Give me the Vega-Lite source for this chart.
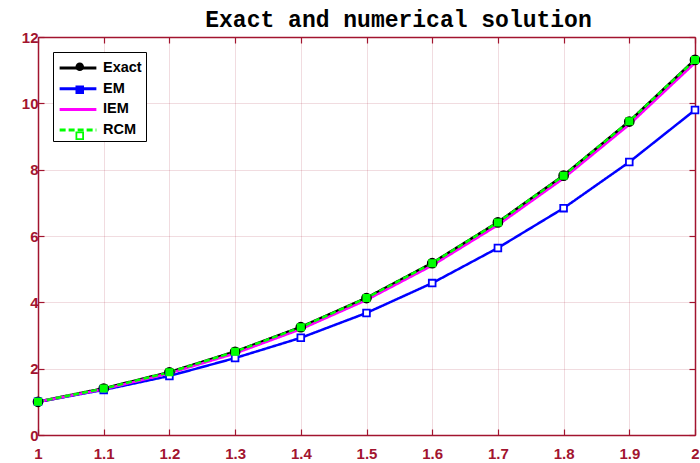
{
  "$schema": "https://vega.github.io/schema/vega-lite/v6.json",
  "autosize": {"type": "none"},
  "width": 657,
  "height": 398,
  "padding": {"left": 38, "top": 37, "right": 5, "bottom": 28},
  "background": "white",
  "title": {
    "text": "Exact and numerical solution",
    "font": "Liberation Mono",
    "fontWeight": "bold",
    "fontSize": 23,
    "color": "#000000",
    "anchor": "middle",
    "dx": 32,
    "offset": -2
  },
  "config": {
    "view": {"stroke": null},
    "axis": {
      "domainColor": "#A2142F",
      "domainWidth": 1.5,
      "tickColor": "#A2142F",
      "tickSize": -6,
      "tickWidth": 1.2,
      "labelColor": "#A2142F",
      "labelFont": "Liberation Sans",
      "labelFontWeight": "bold",
      "labelFontSize": 15,
      "gridColor": "#A2142F",
      "gridOpacity": 0.15,
      "gridWidth": 1,
      "title": null
    },
    "legend": {
      "labelFont": "Liberation Sans",
      "labelFontWeight": "bold",
      "labelFontSize": 14.5,
      "labelColor": "#000000",
      "title": null
    }
  },
  "data": {
    "values": [
      {"x": 1.0, "series": "Exact", "y": 1.0},
      {"x": 1.1, "series": "Exact", "y": 1.40},
      {"x": 1.2, "series": "Exact", "y": 1.89},
      {"x": 1.3, "series": "Exact", "y": 2.51},
      {"x": 1.4, "series": "Exact", "y": 3.25},
      {"x": 1.5, "series": "Exact", "y": 4.13},
      {"x": 1.6, "series": "Exact", "y": 5.18},
      {"x": 1.7, "series": "Exact", "y": 6.41},
      {"x": 1.8, "series": "Exact", "y": 7.82},
      {"x": 1.9, "series": "Exact", "y": 9.45},
      {"x": 2.0, "series": "Exact", "y": 11.31},
      {"x": 1.0, "series": "EM", "y": 1.0},
      {"x": 1.1, "series": "EM", "y": 1.36},
      {"x": 1.2, "series": "EM", "y": 1.78},
      {"x": 1.3, "series": "EM", "y": 2.32},
      {"x": 1.4, "series": "EM", "y": 2.93},
      {"x": 1.5, "series": "EM", "y": 3.68},
      {"x": 1.6, "series": "EM", "y": 4.58},
      {"x": 1.7, "series": "EM", "y": 5.64},
      {"x": 1.8, "series": "EM", "y": 6.84},
      {"x": 1.9, "series": "EM", "y": 8.23},
      {"x": 2.0, "series": "EM", "y": 9.80},
      {"x": 1.0, "series": "IEM", "y": 1.0},
      {"x": 1.1, "series": "IEM", "y": 1.38},
      {"x": 1.2, "series": "IEM", "y": 1.86},
      {"x": 1.3, "series": "IEM", "y": 2.46},
      {"x": 1.4, "series": "IEM", "y": 3.19},
      {"x": 1.5, "series": "IEM", "y": 4.07},
      {"x": 1.6, "series": "IEM", "y": 5.11},
      {"x": 1.7, "series": "IEM", "y": 6.33},
      {"x": 1.8, "series": "IEM", "y": 7.74},
      {"x": 1.9, "series": "IEM", "y": 9.36},
      {"x": 2.0, "series": "IEM", "y": 11.22},
      {"x": 1.0, "series": "RCM", "y": 1.0},
      {"x": 1.1, "series": "RCM", "y": 1.40},
      {"x": 1.2, "series": "RCM", "y": 1.89},
      {"x": 1.3, "series": "RCM", "y": 2.51},
      {"x": 1.4, "series": "RCM", "y": 3.25},
      {"x": 1.5, "series": "RCM", "y": 4.13},
      {"x": 1.6, "series": "RCM", "y": 5.18},
      {"x": 1.7, "series": "RCM", "y": 6.41},
      {"x": 1.8, "series": "RCM", "y": 7.82},
      {"x": 1.9, "series": "RCM", "y": 9.46},
      {"x": 2.0, "series": "RCM", "y": 11.31}
    ]
  },
  "resolve": {"axis": {"x": "independent", "y": "independent"}},
  "layer": [
    {
      "encoding": {
        "x": {
          "field": "x", "type": "quantitative",
          "scale": {"domain": [1, 2], "nice": false, "zero": false},
          "axis": {"values": [1, 1.1, 1.2, 1.3, 1.4, 1.5, 1.6, 1.7, 1.8, 1.9, 2], "format": "~g", "grid": true, "labelPadding": 17, "labelFlush": false}
        },
        "y": {
          "field": "y", "type": "quantitative",
          "scale": {"domain": [0, 12], "nice": false},
          "axis": {"values": [0, 2, 4, 6, 8, 10, 12], "grid": true, "labelPadding": 6}
        }
      },
      "layer": [
        {
          "transform": [{"filter": "datum.series === 'Exact'"}],
          "mark": {"type": "line", "strokeWidth": 3},
          "encoding": {
            "color": {"field": "series", "type": "nominal",
              "scale": {"domain": ["Exact", "EM", "IEM", "RCM"], "range": ["#000000", "#0000FF", "#FF00FF", "#00FF00"]},
              "legend": {
                "orient": "top-left", "offset": 15,
                "symbolType": "M-1.75,0H1.75", "symbolSize": 441, "symbolStrokeWidth": 3,
                "symbolOffset": 9,
                "strokeColor": "#000000", "fillColor": "#FFFFFF", "padding": 4,
                "rowPadding": 1.7, "labelOffset": 13, "zindex": 1
              }
            },
            "strokeDash": {"field": "series", "type": "nominal",
              "scale": {"domain": ["Exact", "EM", "IEM", "RCM"], "range": [[1, 0], [1, 0], [1, 0], [6, 3]]}
            }
          }
        },
        {
          "transform": [{"filter": "datum.series === 'EM'"}],
          "mark": {"type": "line", "strokeWidth": 2.5},
          "encoding": {
            "color": {"field": "series", "type": "nominal"},
            "strokeDash": {"field": "series", "type": "nominal"}
          }
        },
        {
          "transform": [{"filter": "datum.series === 'IEM'"}],
          "mark": {"type": "line", "strokeWidth": 2.5},
          "encoding": {
            "color": {"field": "series", "type": "nominal"},
            "strokeDash": {"field": "series", "type": "nominal"}
          }
        },
        {
          "transform": [{"filter": "datum.series === 'RCM'"}],
          "mark": {"type": "line", "strokeWidth": 2.5},
          "encoding": {
            "color": {"field": "series", "type": "nominal"},
            "strokeDash": {"field": "series", "type": "nominal"}
          }
        },
        {
          "transform": [{"filter": "datum.series === 'Exact'"}],
          "mark": {"type": "point", "size": 85, "strokeWidth": 1.5, "opacity": 1},
          "encoding": {
            "shape": {"field": "series", "type": "nominal",
              "scale": {"domain": ["Exact", "EM", "IEM", "RCM"], "range": ["circle", "square", "circle", "square"]},
              "legend": {
                "orient": "none", "legendX": 30.5, "legendY": 18.5,
                "symbolSize": 45, "symbolStrokeWidth": 1.8,
                "rowPadding": 7, "labelExpr": "''", "zindex": 2, "padding": 4
              }
            },
            "fill": {"field": "series", "type": "nominal",
              "scale": {"domain": ["Exact", "EM", "IEM", "RCM"], "range": ["#000000", "#0000FF", "transparent", "#FFFFFF"]}
            },
            "stroke": {"field": "series", "type": "nominal",
              "scale": {"domain": ["Exact", "EM", "IEM", "RCM"], "range": ["#000000", "#0000FF", "transparent", "#00FF00"]}
            }
          }
        },
        {
          "transform": [{"filter": "datum.series === 'EM'"}],
          "mark": {"type": "point", "size": 45, "strokeWidth": 1.8, "fill": "#FFFFFF", "opacity": 1},
          "encoding": {
            "shape": {"field": "series", "type": "nominal"},
            "stroke": {"field": "series", "type": "nominal"}
          }
        },
        {
          "transform": [{"filter": "datum.series === 'RCM'"}],
          "mark": {"type": "point", "size": 36, "strokeWidth": 2, "fill": "#00FF00", "opacity": 1},
          "encoding": {
            "shape": {"field": "series", "type": "nominal"},
            "stroke": {"field": "series", "type": "nominal"}
          }
        }
      ]
    },
    {
      "mark": {"type": "point", "opacity": 0},
      "encoding": {
        "x": {"field": "x", "type": "quantitative",
          "axis": {"orient": "top", "values": [1, 1.1, 1.2, 1.3, 1.4, 1.5, 1.6, 1.7, 1.8, 1.9, 2], "labels": false, "grid": false}
        },
        "y": {"field": "y", "type": "quantitative",
          "axis": {"orient": "right", "values": [0, 2, 4, 6, 8, 10, 12], "labels": false, "grid": false}
        }
      }
    }
  ]
}
